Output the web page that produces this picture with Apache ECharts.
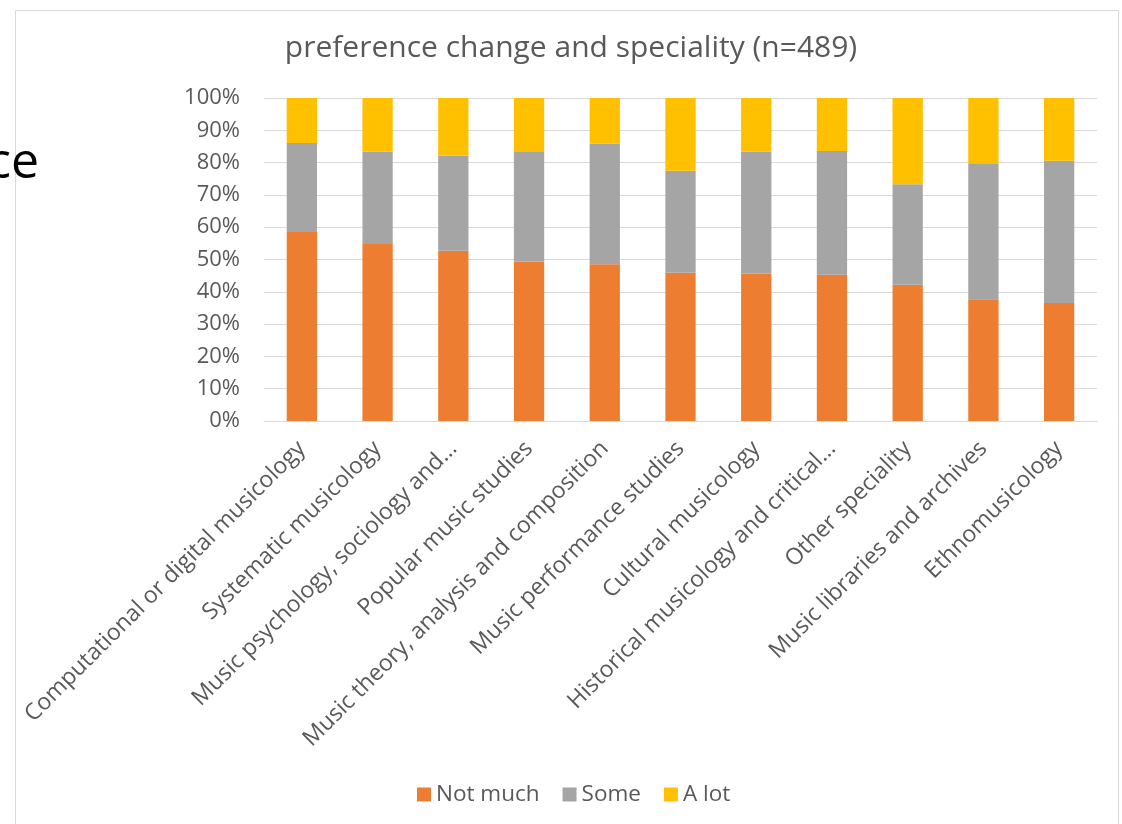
<!DOCTYPE html>
<html>
<head>
<meta charset="utf-8">
<script src="https://cdn.jsdelivr.net/npm/echarts@6/dist/echarts.min.js"></script>
<style>
html,body{margin:0;padding:0;background:#fff;}
#chart{width:1122px;height:824px;}
</style>
</head>
<body>
<div id="chart"></div>
<script>
const categories = [
  "Computational or digital musicology",
  "Systematic musicology",
  "Music psychology, sociology and…",
  "Popular music studies",
  "Music theory, analysis and composition",
  "Music performance studies",
  "Cultural musicology",
  "Historical musicology and critical…",
  "Other speciality",
  "Music libraries and archives",
  "Ethnomusicology"
];
const notMuch = [58.5, 54.8, 52.7, 49.4, 48.5, 45.9, 45.6, 45.3, 42.2, 37.7, 36.5];
const some    = [27.6, 28.6, 29.5, 34.1, 37.4, 31.6, 37.8, 38.3, 31.1, 42.1, 44.1];
const aLot    = [13.9, 16.6, 17.8, 16.5, 14.1, 22.5, 16.6, 16.4, 26.7, 20.2, 19.4];
const seriesNames = ["Not much", "Some", "A lot"];
const colors = ["#ED7D31", "#A5A5A5", "#FFC000"];

const FONT = "Open Sans";
const TXT = "#595959";

const chart = echarts.init(document.getElementById('chart'), null, {renderer: 'canvas'});
const dataSets = [notMuch, some, aLot];
chart.setOption({
  animation: false,
  backgroundColor: '#fff',
  title: {
    text: 'preference change and speciality (n=489)',
    left: 566, top: 28, textAlign: 'center',
    textStyle: {fontFamily: FONT, fontSize: 30, fontWeight: 'normal', color: TXT}
  },
  legend: {
    data: seriesNames,
    top: 778, left: 412,
    icon: 'rect', itemWidth: 14, itemHeight: 14, itemGap: 23,
    textStyle: {fontFamily: FONT, fontSize: 22.5, color: TXT}
  },
  grid: {left: 264, right: 25, top: 98, bottom: 403, containLabel: false},
  xAxis: {
    type: 'category', data: categories,
    axisLine: {lineStyle: {color: '#D9D9D9', width: 1}},
    axisTick: {show: false},
    axisLabel: {rotate: 45, interval: 0, margin: 24, fontFamily: FONT, fontSize: 23, color: TXT}
  },
  yAxis: {
    type: 'value', min: 0, max: 100, interval: 10,
    axisLine: {show: false}, axisTick: {show: false},
    splitLine: {lineStyle: {color: '#D9D9D9', width: 1}},
    axisLabel: {formatter: '{value}%', margin: 24, fontFamily: FONT, fontSize: 22, color: TXT}
  },
  series: seriesNames.map((n, i) => ({
    name: n, type: 'bar', stack: 'total', data: dataSets[i],
    barWidth: '40%',
    itemStyle: {color: colors[i]}
  })),
  graphic: [
    {type: 'rect', shape: {x: 15.5, y: 10.5, width: 1103, height: 830}, style: {fill: null, stroke: '#D9D9D9', lineWidth: 1}, silent: true, z: -1},
    {type: 'text', x: 39, y: 164, style: {text: 'ce', fontFamily: FONT, fontSize: 50, fill: '#000', align: 'right', verticalAlign: 'middle'}}
  ]
});
</script>
</body>
</html>
